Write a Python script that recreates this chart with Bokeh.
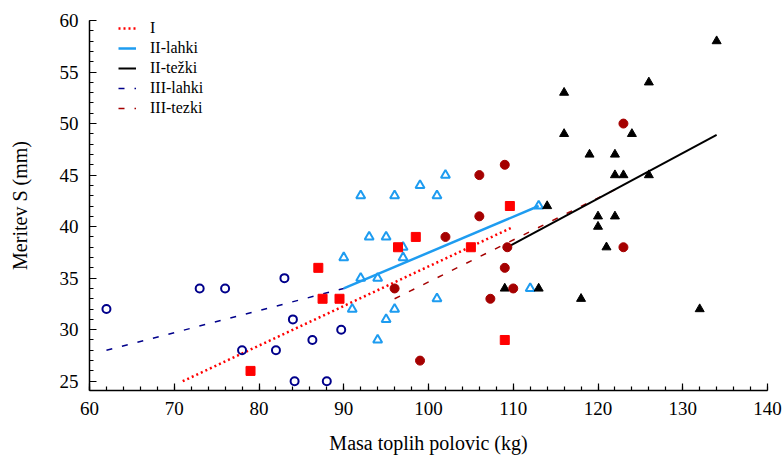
from bokeh.plotting import figure
from bokeh.models import SingleIntervalTicker, Legend, LegendItem, Range1d
from bokeh.embed import file_html
from bokeh.resources import INLINE

# ---- data ----
i_x = [79, 87, 87.5, 89.5, 96.4, 98.5, 105, 109.6, 109]
i_y = [26, 36, 33, 33, 38, 39, 38, 42, 29]
i_fit_x = [71, 109.8]
i_fit_y = [25, 39.9]

iil_x = [92, 96, 101, 99, 102, 93, 95, 97, 90, 97, 92, 94, 91, 96, 95, 101, 94, 112, 113]
iil_y = [43, 43, 43, 44, 45, 39, 39, 38, 37, 37, 35, 35, 32, 32, 31, 33, 29, 34, 42]
iil_fit_x = [90, 113]
iil_fit_y = [34, 42]

iit_x = [134, 126, 116, 116, 124, 119, 122, 122, 123, 126, 114, 120, 122, 120, 121, 109, 113, 118, 132]
iit_y = [58, 54, 53, 49, 49, 47, 47, 45, 45, 45, 42, 41, 41, 40, 38, 34, 34, 33, 32]
iit_fit_x = [109.3, 134]
iit_fit_y = [38, 48.9]

iiil_x = [62, 73, 76, 83, 84, 78, 82, 86.3, 89.7, 84.2, 88]
iiil_y = [32, 34, 34, 35, 31, 28, 28, 29, 30, 25, 25]
iiil_fit_x = [62, 90]
iiil_fit_y = [28, 34]

iiit_x = [109, 106, 106, 102, 109.3, 109, 110, 107.3, 96, 99, 123, 123]
iiit_y = [46, 45, 41, 39, 38, 36, 34, 33, 34, 27, 50, 38]
iiit_fit_x = [96, 123]
iiit_fit_y = [33, 44]

labels = ["I", "II-lahki", "II-težki", "III-lahki", "III-tezki"]

RED = "#ff0000"
BLUE = "#1e9cf0"
BLACK = "#000000"
NAVY = "#00008b"
DRED = "#a50000"
FONT = "Liberation Serif"

p = figure(width=782, height=456, output_backend="svg", toolbar_location=None,
           x_range=Range1d(60, 140), y_range=Range1d(24.1, 60),
           min_border_left=89, min_border_right=15, min_border_top=20, min_border_bottom=63)
p.outline_line_color = None
p.xgrid.grid_line_color = None
p.ygrid.grid_line_color = None
p.background_fill_color = "white"

# lines
l_iiit = p.line(iiit_fit_x, iiit_fit_y, line_color=DRED, line_width=1.5, line_dash="6 10")
l_iiil = p.line(iiil_fit_x, iiil_fit_y, line_color=NAVY, line_width=1.5, line_dash="6 10")
l_i = p.line(i_fit_x, i_fit_y, line_color=RED, line_width=2.5, line_dash="2 3")
l_iil = p.line(iil_fit_x, iil_fit_y, line_color=BLUE, line_width=2.5)
l_iit = p.line(iit_fit_x, iit_fit_y, line_color=BLACK, line_width=2)

# points
p.scatter(iiil_x, iiil_y, marker="circle", size=8, fill_color=None, line_color=NAVY, line_width=2)
p.scatter(iil_x, iil_y, marker="triangle", size=9, fill_color=None, line_color=BLUE, line_width=2)
p.scatter(iit_x, iit_y, marker="triangle", size=9, fill_color=BLACK, line_color=BLACK)
p.scatter(iiit_x, iiit_y, marker="circle", size=9, fill_color=DRED, line_color=DRED)
p.scatter(i_x, i_y, marker="square", size=9, fill_color=RED, line_color=RED)

# axes
for ax in (p.xaxis[0], p.yaxis[0]):
    ax.axis_line_width = 1.5
    ax.major_tick_line_width = 1.2
    ax.minor_tick_line_width = 1.2
    ax.major_tick_in = 7
    ax.major_tick_out = 0
    ax.minor_tick_in = 4
    ax.minor_tick_out = 0
    ax.major_label_text_font = FONT
    ax.major_label_text_font_size = "19px"
    ax.major_label_text_color = "black"
    ax.axis_label_text_font = FONT
    ax.axis_label_text_font_size = "20px"
    ax.axis_label_text_font_style = "normal"
    ax.axis_label_text_color = "black"

p.xaxis[0].ticker = SingleIntervalTicker(interval=10, num_minor_ticks=5)
p.yaxis[0].ticker = SingleIntervalTicker(interval=5, num_minor_ticks=5)
p.xaxis[0].axis_label = "Masa toplih polovic (kg)"
p.yaxis[0].axis_label = "Meritev S (mm)"
p.xaxis[0].major_label_standoff = 11
p.yaxis[0].major_label_standoff = 11
p.xaxis[0].axis_label_standoff = 14
p.yaxis[0].axis_label_standoff = 26

legend = Legend(items=[
    LegendItem(label=labels[0], renderers=[l_i]),
    LegendItem(label=labels[1], renderers=[l_iil]),
    LegendItem(label=labels[2], renderers=[l_iit]),
    LegendItem(label=labels[3], renderers=[l_iiil]),
    LegendItem(label=labels[4], renderers=[l_iiit]),
], location=(29, 272))
legend.background_fill_alpha = 0
legend.border_line_alpha = 0
legend.padding = 0
legend.spacing = 0
legend.margin = 0
legend.glyph_width = 18
legend.glyph_height = 20
legend.label_height = 20
legend.label_standoff = 14
legend.label_text_font = FONT
legend.label_text_font_size = "16px"
legend.label_text_color = "black"
p.add_layout(legend)

open("out.html", "w").write(file_html(p, INLINE))
